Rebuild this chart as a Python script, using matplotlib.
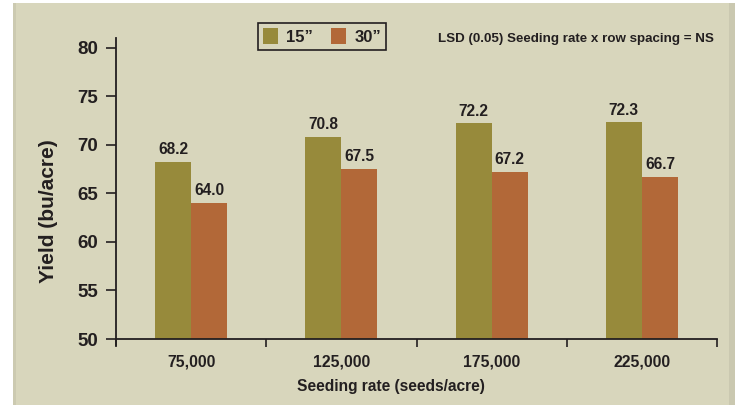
import matplotlib
matplotlib.use("Agg")
import matplotlib.pyplot as plt
from matplotlib.patches import Rectangle, Patch
import numpy as np

# Data
seeding_rates = ["75,000", "125,000", "175,000", "225,000"]
row_spacings = ["15\u201d", "30\u201d"]
yield_15 = [68.2, 70.8, 72.2, 72.3]
yield_30 = [64.0, 67.5, 67.2, 66.7]

BG = "#D8D6BC"
OLIVE = "#978A3B"
RUST = "#B26838"
INK = "#231F20"

W, H = 735, 409
DPI = 100
FONT = ["Liberation Sans", "DejaVu Sans"]
plt.rcParams["font.family"] = FONT

fig = plt.figure(figsize=(W / DPI, H / DPI), dpi=DPI, facecolor="white")

def fx(px):
    return px / W

def fy(py):
    return 1 - py / H

# Beige panel behind everything
for x0, w, col in ((13, 722, BG), (729, 6, "#CAC8B0"), (13, 3, "#CCCAB1")):
    fig.patches.append(Rectangle((fx(x0), fy(405)), fx(w), (405 - 3) / H,
                                 transform=fig.transFigure, facecolor=col,
                                 edgecolor="none", zorder=-10))

left, right, top, bottom = 116, 717, 38, 339
ax = fig.add_axes([fx(left), fy(bottom), fx(right - left), (bottom - top) / H])
ax.set_facecolor("none")
ax.set_zorder(1)

x = np.arange(len(seeding_rates))
bw = 0.24
b1 = ax.bar(x - bw / 2, yield_15, width=bw, color=OLIVE, zorder=2)
b2 = ax.bar(x + bw / 2, yield_30, width=bw, color=RUST, zorder=2)

for bars, vals in ((b1, yield_15), (b2, yield_30)):
    for rect, v in zip(bars, vals):
        ax.annotate(f"{v:.1f}", (rect.get_x() + rect.get_width() / 2, v),
                    xytext=(0, 3.5), textcoords="offset points",
                    ha="center", va="bottom", fontsize=11.2,
                    fontweight="bold", color=INK)

ax.set_xlim(-0.5, 3.5)
ax.set_ylim(50, 81)
ax.set_yticks(np.arange(50, 81, 5))
ax.set_yticklabels([str(v) for v in range(50, 81, 5)], fontsize=13.5,
                   fontweight="bold", color=INK)
ax.tick_params(axis="y", direction="out", length=7, width=1.2, color=INK, pad=6)

ax.set_xticks(x)
ax.set_xticklabels(seeding_rates, fontsize=11.3, fontweight="bold", color=INK)
ax.tick_params(axis="x", which="major", length=0, pad=11)
ax.set_xticks(np.arange(-0.5, 4.0, 1.0), minor=True)
ax.tick_params(axis="x", which="minor", direction="out", length=6,
               width=1.2, color=INK)

for s in ("top", "right"):
    ax.spines[s].set_visible(False)
for s in ("left", "bottom"):
    ax.spines[s].set_color(INK)
    ax.spines[s].set_linewidth(1.3)
ax.spines["left"].set_bounds(49.4, 81)

fig.text(fx(391), fy(387), "Seeding rate (seeds/acre)", ha="center",
         va="center", fontsize=11.2, fontweight="bold", color=INK)
fig.text(fx(48), fy(211), "Yield (bu/acre)", ha="center", va="center",
         rotation=90, fontsize=15, fontweight="bold", color=INK)

fig.text(fx(438), fy(39), "LSD (0.05) Seeding rate x row spacing = NS",
         ha="left", va="center", fontsize=9.6, fontweight="bold", color=INK)

handles = [Patch(facecolor=OLIVE, edgecolor="none"),
           Patch(facecolor=RUST, edgecolor="none")]
leg = fig.legend(handles, row_spacings, loc="center",
                 bbox_to_anchor=(fx(322), fy(36.5)), ncol=2,
                 frameon=True, fancybox=False, facecolor=BG,
                 edgecolor=INK, framealpha=1,
                 prop={"weight": "bold", "size": 12},
                 handlelength=0.9, handleheight=1.1, handletextpad=0.5,
                 columnspacing=1.1, borderpad=0.3, borderaxespad=0)
leg.get_frame().set_linewidth(1.2)
for t in leg.get_texts():
    t.set_color(INK)

fig.savefig("out.png", dpi=DPI, facecolor="white")
